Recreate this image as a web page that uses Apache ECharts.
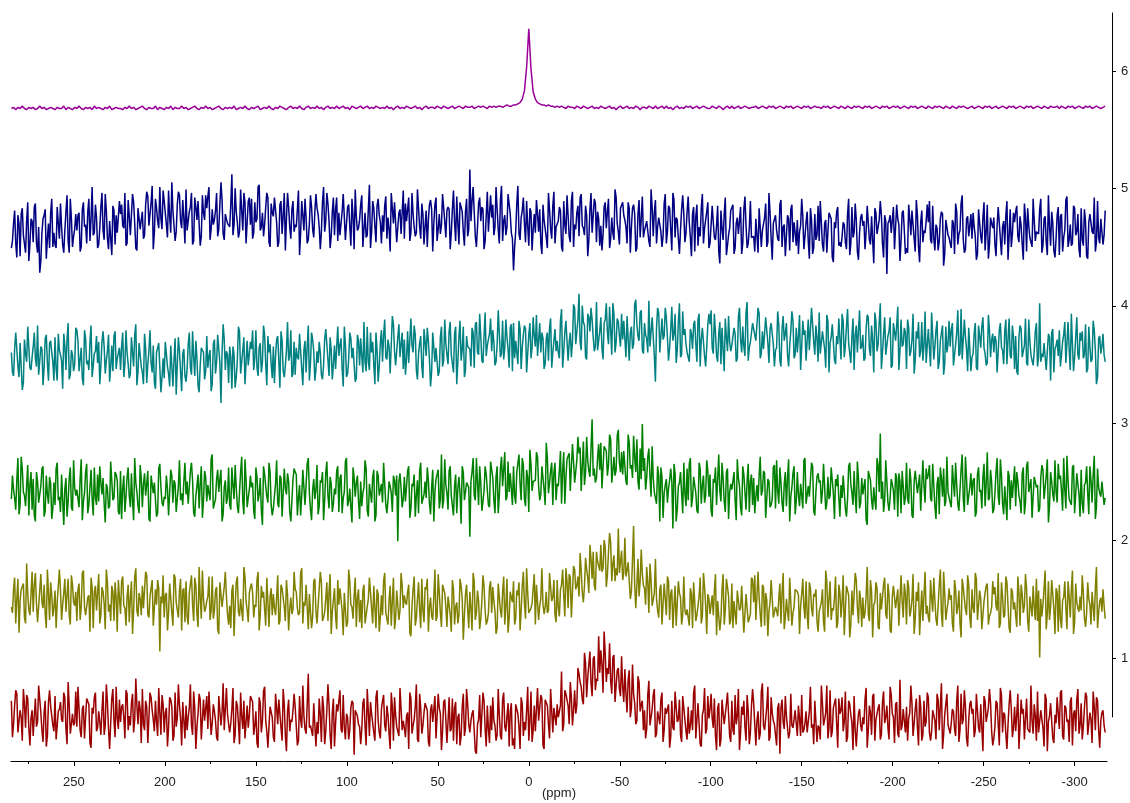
<!DOCTYPE html>
<html><head><meta charset="utf-8">
<script src="https://cdn.jsdelivr.net/npm/echarts@6/dist/echarts.min.js"></script>
<style>html,body{margin:0;padding:0;background:#fff}#c{width:1130px;height:803px}</style>
</head><body><div id="c"></div>
<script>
// spectral sampling grid (ppm): first point and spacing
const ppmStart = 284.4;
const ppmStepCoarse = 1.2;   // magenta trace
const ppmStepFine = 0.6;     // noisy traces
const xTickLabels = [250,200,150,100,50,0,-50,-100,-150,-200,-250,-300];
const xMinorTicks = [275,225,175,125,75,25,-25,-75,-125,-175,-225,-275];
const yTickLabels = [1,2,3,4,5,6];
const axisName = '(ppm)';

const traceMagenta = [
5.68,5.69,5.67,5.69,5.68,5.70,5.68,5.67,5.69,5.68,
5.69,5.67,5.68,5.70,5.68,5.69,5.67,5.68,5.69,5.68,
5.67,5.69,5.68,5.68,5.70,5.67,5.69,5.68,5.67,5.69,
5.68,5.70,5.68,5.67,5.69,5.68,5.69,5.67,5.70,5.68,
5.69,5.68,5.67,5.69,5.68,5.70,5.67,5.68,5.69,5.68,
5.68,5.67,5.69,5.68,5.70,5.68,5.69,5.67,5.68,5.69,
5.70,5.68,5.67,5.69,5.68,5.68,5.70,5.67,5.69,5.68,
5.67,5.69,5.68,5.70,5.67,5.69,5.68,5.68,5.70,5.68,
5.69,5.67,5.68,5.69,5.70,5.68,5.67,5.69,5.68,5.70,
5.68,5.69,5.67,5.68,5.69,5.70,5.68,5.67,5.69,5.68,
5.69,5.68,5.70,5.67,5.68,5.69,5.68,5.70,5.68,5.67,
5.69,5.68,5.69,5.70,5.67,5.68,5.69,5.68,5.70,5.68,
5.67,5.69,5.68,5.70,5.69,5.68,5.67,5.69,5.70,5.68,
5.69,5.68,5.70,5.68,5.67,5.69,5.70,5.68,5.69,5.68,
5.70,5.68,5.69,5.67,5.69,5.70,5.68,5.69,5.68,5.70,
5.68,5.69,5.70,5.68,5.69,5.67,5.70,5.69,5.68,5.69,
5.70,5.68,5.69,5.70,5.68,5.69,5.68,5.70,5.69,5.68,
5.69,5.68,5.70,5.68,5.69,5.67,5.69,5.70,5.68,5.69,
5.68,5.70,5.69,5.68,5.69,5.70,5.68,5.69,5.67,5.69,
5.70,5.68,5.69,5.69,5.68,5.70,5.69,5.68,5.70,5.69,
5.68,5.69,5.70,5.68,5.69,5.70,5.69,5.68,5.70,5.69,
5.69,5.70,5.68,5.69,5.70,5.69,5.70,5.69,5.68,5.70,
5.69,5.70,5.69,5.70,5.70,5.69,5.70,5.71,5.70,5.70,
5.71,5.71,5.72,5.73,5.76,5.83,6.03,6.36,6.02,5.82,
5.76,5.73,5.72,5.71,5.71,5.70,5.71,5.70,5.70,5.69,
5.70,5.69,5.70,5.69,5.68,5.70,5.69,5.69,5.68,5.70,
5.69,5.68,5.70,5.69,5.68,5.69,5.70,5.68,5.69,5.68,
5.70,5.69,5.68,5.69,5.70,5.68,5.69,5.67,5.69,5.70,
5.68,5.69,5.70,5.68,5.69,5.68,5.70,5.69,5.67,5.69,
5.69,5.68,5.70,5.69,5.68,5.70,5.68,5.69,5.70,5.68,
5.70,5.68,5.69,5.67,5.69,5.70,5.68,5.69,5.68,5.70,
5.69,5.70,5.68,5.69,5.70,5.68,5.69,5.70,5.69,5.68,
5.68,5.70,5.69,5.68,5.70,5.69,5.67,5.69,5.70,5.68,
5.70,5.68,5.69,5.70,5.68,5.69,5.70,5.69,5.68,5.69,
5.69,5.70,5.68,5.69,5.70,5.69,5.68,5.70,5.69,5.70,
5.68,5.69,5.70,5.69,5.68,5.70,5.69,5.70,5.68,5.69,
5.70,5.69,5.68,5.70,5.69,5.70,5.68,5.69,5.70,5.69,
5.69,5.68,5.70,5.69,5.70,5.68,5.69,5.70,5.69,5.68,
5.70,5.69,5.68,5.70,5.69,5.68,5.70,5.69,5.70,5.69,
5.68,5.70,5.69,5.70,5.68,5.69,5.70,5.69,5.68,5.70,
5.69,5.70,5.68,5.69,5.70,5.69,5.70,5.68,5.69,5.70,
5.69,5.68,5.70,5.69,5.70,5.68,5.69,5.70,5.69,5.68,
5.70,5.69,5.68,5.70,5.69,5.70,5.69,5.68,5.70,5.69,
5.68,5.70,5.69,5.68,5.70,5.69,5.70,5.69,5.68,5.69,
5.70,5.68,5.69,5.70,5.69,5.68,5.70,5.69,5.70,5.68,
5.69,5.70,5.68,5.69,5.70,5.69,5.68,5.70,5.69,5.70,
5.68,5.69,5.70,5.69,5.68,5.70,5.69,5.70,5.68,5.69,
5.70,5.69,5.68,5.70,5.69,5.68,5.70,5.69,5.69,5.70,
5.68,5.70,5.69,5.68,5.70,5.69,5.70,5.68,5.69,5.70,
5.69,5.68,5.70,5.69,5.70,5.68,5.69,5.70,5.69,5.68,
5.69,5.70];

const traceNavy = [
4.49,4.55,4.70,4.81,4.53,4.41,4.77,4.70,4.42,4.78,4.83,4.60,4.61,4.45,4.72,4.88,4.38,4.52,4.74,4.72,
4.54,4.84,4.87,4.53,4.45,4.67,4.28,4.38,4.62,4.74,4.77,4.82,4.40,4.57,4.70,4.49,4.79,4.91,4.50,4.62,
4.52,4.49,4.84,4.70,4.57,4.87,4.67,4.52,4.45,4.64,4.80,4.94,4.55,4.45,4.91,4.74,4.50,4.59,4.65,4.78,
4.64,4.77,4.79,4.46,4.50,4.82,4.88,4.67,4.69,4.53,4.80,4.91,4.55,4.74,5.01,4.60,4.62,4.86,4.75,4.49,
4.52,4.66,4.84,4.96,4.64,4.56,4.95,4.81,4.57,4.48,4.72,4.72,4.43,4.85,4.81,4.52,4.77,4.62,4.61,4.89,
4.78,4.86,4.68,4.66,4.96,4.51,4.53,4.90,4.76,4.60,4.60,4.95,4.88,4.70,4.49,4.47,4.83,4.82,4.65,4.73,
4.80,4.57,4.60,4.86,4.97,4.93,4.68,4.69,4.88,5.02,4.48,4.62,4.91,4.83,4.72,4.66,5.01,4.74,4.65,4.98,
4.89,4.88,4.69,4.58,4.98,4.76,4.62,5.05,4.81,4.68,4.55,4.63,4.86,4.97,4.94,4.72,4.66,4.90,4.74,4.53,
4.99,4.64,4.64,4.80,4.84,4.96,4.52,4.55,4.92,4.84,4.73,4.89,4.89,4.51,4.59,4.94,4.79,4.73,4.94,4.83,
4.93,5.01,4.56,4.65,4.82,4.69,4.73,4.81,4.96,4.59,4.65,4.86,5.05,4.90,4.61,4.56,4.78,4.79,4.70,4.70,
4.67,4.86,5.12,4.60,4.69,5.00,4.80,4.71,4.58,4.63,4.99,4.81,4.64,4.96,4.88,4.53,4.71,4.89,4.92,4.69,
4.91,4.57,4.62,4.88,4.71,4.74,5.01,5.03,4.64,4.67,4.79,4.59,4.69,4.84,4.96,4.92,4.54,4.50,4.87,4.79,
4.76,4.92,4.91,4.71,4.50,4.54,4.86,4.89,4.61,4.77,4.96,4.47,4.74,4.96,4.84,4.67,4.57,4.82,4.89,4.63,
4.69,4.67,4.82,4.98,4.43,4.62,4.89,4.77,4.64,4.91,4.75,4.53,4.56,4.70,4.94,4.84,4.65,4.58,4.80,4.95,
4.83,4.78,4.67,4.48,4.63,4.88,5.01,4.63,4.72,4.96,4.87,4.72,4.49,4.59,4.80,4.92,4.60,4.82,4.92,4.55,
4.79,4.60,4.61,4.80,4.95,4.95,4.56,4.56,4.84,4.86,4.68,4.51,4.91,4.76,4.48,4.99,4.76,4.64,4.66,4.73,
4.86,4.94,4.50,4.65,4.79,4.58,4.60,4.82,5.03,4.49,4.63,4.89,4.83,4.68,4.54,4.85,4.91,4.77,4.71,4.53,
4.77,4.63,4.85,4.93,4.57,4.75,4.65,4.46,4.96,4.83,4.70,4.88,4.89,4.54,4.53,4.79,4.82,4.61,4.62,4.98,
4.57,4.87,4.72,4.71,4.92,4.55,4.62,4.96,4.78,4.67,4.59,4.62,4.99,5.00,4.67,4.57,4.87,4.78,4.52,4.68,
4.81,4.50,4.73,4.86,4.90,4.82,4.46,4.70,4.86,4.92,4.55,4.65,4.78,4.61,4.69,4.95,4.95,4.72,4.58,4.81,
4.84,4.82,4.48,4.62,4.82,4.98,4.71,4.55,4.93,4.70,4.52,4.88,4.87,4.80,4.63,4.51,4.80,4.91,4.59,4.65,
5.16,4.72,4.89,5.01,4.80,4.59,4.50,4.67,4.87,4.92,4.72,4.84,4.82,4.48,4.55,4.77,4.97,4.63,4.64,4.94,
4.75,4.86,4.60,4.67,5.01,4.82,4.65,4.53,4.90,5.02,4.55,4.72,4.77,4.60,4.67,4.95,4.94,4.78,4.62,4.57,
4.30,4.50,4.63,4.87,5.02,4.61,4.56,4.75,4.81,4.92,4.70,4.54,4.89,4.68,4.51,4.83,4.80,4.47,4.65,4.78,
4.62,4.90,4.78,4.63,4.82,4.53,4.44,4.86,4.73,4.73,4.58,4.49,4.96,4.82,4.65,4.57,4.85,4.97,4.53,4.67,
4.66,4.72,4.84,4.81,4.50,4.46,4.89,4.69,4.61,4.94,4.77,4.59,4.54,4.89,4.97,4.50,4.69,4.65,4.79,4.85,
4.59,4.92,4.95,4.68,4.66,4.60,4.85,4.77,4.42,4.56,4.82,4.96,4.62,4.63,4.91,4.87,4.54,4.80,4.74,4.51,
4.68,4.47,4.60,4.84,4.88,4.66,4.80,4.91,4.49,4.57,4.75,4.62,4.56,4.99,4.92,4.70,4.63,4.52,4.83,4.82,
4.88,4.77,4.73,4.67,4.53,4.88,4.83,4.45,4.67,4.83,4.86,4.78,4.46,4.49,4.78,4.90,4.58,4.74,4.93,4.58,
4.64,4.64,4.72,4.73,4.55,4.50,4.99,4.84,4.59,4.80,4.90,4.53,4.67,4.75,4.76,4.63,4.50,4.59,4.87,4.95,
4.53,4.63,4.85,4.83,4.65,4.47,4.96,4.90,4.58,4.75,4.73,4.57,4.44,4.65,4.82,4.94,4.78,4.54,4.62,4.80,
4.93,4.71,4.58,4.42,4.78,4.84,4.46,4.76,4.86,4.51,4.67,4.59,4.83,4.95,4.53,4.66,4.73,4.80,4.88,4.49,
4.53,4.52,4.85,4.71,4.58,4.56,4.68,4.85,4.46,4.36,4.81,4.66,4.56,4.78,4.92,4.43,4.51,4.60,4.66,4.81,
4.81,4.86,4.44,4.49,4.70,4.75,4.61,4.61,4.84,4.44,4.53,4.82,4.93,4.68,4.49,4.53,4.66,4.89,4.58,4.58,
4.59,4.46,4.74,4.73,4.45,4.83,4.83,4.50,4.64,4.63,4.75,4.87,4.50,4.54,4.96,4.79,4.57,4.39,4.70,4.69,
4.77,4.64,4.57,4.55,4.86,4.90,4.50,4.67,4.69,4.42,4.43,4.77,4.74,4.47,4.82,4.86,4.54,4.71,4.62,4.51,
4.73,4.44,4.63,4.68,4.91,4.76,4.48,4.59,4.71,4.80,4.55,4.40,4.83,4.73,4.44,4.49,4.78,4.56,4.60,4.85,
4.55,4.89,4.88,4.52,4.46,4.70,4.73,4.45,4.63,4.79,4.78,4.74,4.41,4.37,4.71,4.66,4.80,4.84,4.51,4.54,
4.50,4.59,4.71,4.69,4.54,4.48,4.78,4.91,4.43,4.53,4.84,4.58,4.62,4.87,4.73,4.46,4.39,4.62,4.75,4.78,
4.68,4.72,4.48,4.63,4.85,4.86,4.56,4.52,4.76,4.56,4.36,4.83,4.79,4.61,4.60,4.73,4.89,4.77,4.53,4.41,
4.77,4.72,4.27,4.70,4.72,4.77,4.62,4.62,4.84,4.48,4.49,4.86,4.74,4.69,4.38,4.55,4.79,4.81,4.64,4.44,
4.49,4.45,4.86,4.74,4.60,4.81,4.69,4.57,4.46,4.90,4.77,4.50,4.37,4.71,4.81,4.54,4.64,4.62,4.72,4.86,
4.71,4.89,4.56,4.53,4.85,4.57,4.47,4.69,4.66,4.47,4.55,4.74,4.80,4.78,4.34,4.44,4.73,4.67,4.60,4.58,
4.53,4.49,4.73,4.70,4.44,4.87,4.80,4.52,4.61,4.64,4.87,4.94,4.56,4.45,4.48,4.74,4.76,4.59,4.68,4.78,
4.57,4.79,4.67,4.59,4.39,4.44,4.82,4.83,4.59,4.53,4.75,4.88,4.47,4.63,4.86,4.40,4.52,4.75,4.70,4.66,
4.75,4.52,4.42,4.68,4.84,4.84,4.57,4.43,4.67,4.72,4.52,4.77,4.89,4.39,4.59,4.82,4.50,4.61,4.79,4.71,
4.80,4.85,4.59,4.54,4.76,4.68,4.52,4.39,4.87,4.75,4.46,4.83,4.68,4.58,4.57,4.50,4.91,4.92,4.55,4.63,
4.62,4.61,4.82,4.91,4.45,4.51,4.74,4.76,4.54,4.43,4.94,4.67,4.51,4.80,4.70,4.47,4.41,4.57,4.77,4.84,
4.43,4.76,4.78,4.46,4.58,4.64,4.90,4.93,4.50,4.56,4.69,4.51,4.53,4.85,4.83,4.60,4.63,4.78,4.48,4.41,
4.83,4.56,4.51,4.82,4.71,4.42,4.40,4.71,4.78,4.79,4.63,4.61,4.92,4.46,4.54,4.89,4.58,4.53,4.74,4.73,
4.52,4.60,4.81];

const traceTeal = [
3.60,3.43,3.40,3.63,3.77,3.78,3.48,3.39,3.68,3.69,3.28,3.34,3.71,3.59,3.52,3.82,3.81,3.47,3.45,3.56,
3.65,3.77,3.55,3.48,3.83,3.41,3.40,3.65,3.63,3.32,3.47,3.72,3.75,3.51,3.36,3.68,3.70,3.60,3.52,3.36,
3.73,3.46,3.36,3.76,3.62,3.58,3.53,3.29,3.76,3.66,3.45,3.71,3.85,3.37,3.41,3.62,3.58,3.44,3.50,3.81,
3.79,3.70,3.44,3.54,3.64,3.38,3.32,3.79,3.72,3.50,3.53,3.45,3.69,3.83,3.39,3.40,3.59,3.61,3.74,3.51,
3.69,3.33,3.49,3.69,3.78,3.65,3.42,3.53,3.61,3.75,3.35,3.48,3.66,3.44,3.74,3.78,3.46,3.55,3.54,3.64,
3.45,3.65,3.77,3.39,3.50,3.79,3.60,3.50,3.38,3.42,3.73,3.60,3.48,3.75,3.84,3.32,3.43,3.68,3.58,3.48,
3.43,3.33,3.76,3.64,3.34,3.50,3.61,3.79,3.51,3.43,3.66,3.35,3.29,3.60,3.59,3.68,3.68,3.26,3.39,3.55,
3.38,3.69,3.59,3.48,3.42,3.31,3.66,3.66,3.31,3.54,3.72,3.24,3.50,3.73,3.61,3.44,3.27,3.59,3.63,3.40,
3.35,3.46,3.67,3.77,3.47,3.41,3.78,3.56,3.40,3.70,3.55,3.32,3.26,3.49,3.64,3.63,3.60,3.37,3.44,3.74,
3.47,3.57,3.62,3.27,3.33,3.67,3.71,3.42,3.52,3.75,3.63,3.51,3.17,3.60,3.84,3.71,3.45,3.61,3.58,3.34,
3.65,3.56,3.29,3.65,3.58,3.30,3.39,3.53,3.82,3.78,3.42,3.43,3.62,3.73,3.33,3.34,3.70,3.49,3.50,3.69,
3.63,3.79,3.45,3.55,3.79,3.47,3.40,3.64,3.68,3.43,3.52,3.83,3.75,3.50,3.32,3.74,3.60,3.67,3.50,3.38,
3.65,3.34,3.57,3.71,3.74,3.53,3.30,3.78,3.70,3.44,3.39,3.49,3.62,3.86,3.53,3.57,3.79,3.39,3.42,3.69,
3.41,3.64,3.56,3.54,3.76,3.75,3.46,3.32,3.62,3.70,3.43,3.65,3.83,3.36,3.51,3.77,3.71,3.61,3.36,3.45,
3.61,3.51,3.69,3.60,3.41,3.37,3.49,3.71,3.80,3.67,3.54,3.40,3.73,3.62,3.37,3.50,3.66,3.46,3.46,3.82,
3.57,3.66,3.72,3.46,3.31,3.82,3.67,3.39,3.42,3.54,3.77,3.72,3.55,3.64,3.65,3.35,3.38,3.75,3.70,3.49,
3.72,3.57,3.43,3.86,3.52,3.44,3.82,3.52,3.45,3.77,3.60,3.69,3.50,3.33,3.77,3.62,3.35,3.48,3.68,3.79,
3.52,3.75,3.88,3.56,3.54,3.71,3.65,3.42,3.43,3.91,3.84,3.61,3.49,3.49,3.73,3.84,3.56,3.67,3.77,3.46,
3.71,3.41,3.55,3.78,3.51,3.52,3.89,3.66,3.60,3.83,3.75,3.45,3.37,3.59,3.68,3.74,3.48,3.38,3.80,3.69,
3.57,3.81,3.70,3.54,3.31,3.44,3.77,3.77,3.52,3.64,3.63,3.40,3.44,3.73,3.82,3.48,3.53,3.88,3.68,3.58,
3.50,3.78,3.86,3.58,3.57,3.43,3.76,3.82,3.33,3.52,3.73,3.87,3.53,3.62,3.82,3.39,3.45,3.74,3.65,3.65,
3.63,3.48,3.81,3.77,3.47,3.84,3.86,3.60,3.58,3.93,3.74,3.53,3.51,3.74,3.94,3.57,3.66,3.65,3.76,3.89,
3.61,3.79,3.69,3.49,3.52,3.67,3.96,3.96,3.56,3.59,3.87,3.54,3.64,3.88,3.73,3.63,3.47,3.81,3.84,3.44,
3.85,3.55,3.70,3.71,3.50,3.87,3.80,3.46,3.64,3.75,3.83,3.80,3.43,3.42,3.75,3.85,3.55,3.64,3.90,3.74,
3.65,3.92,3.57,3.56,3.85,3.60,3.77,3.72,3.46,3.50,3.72,3.77,3.53,3.81,3.89,3.47,3.60,3.70,3.80,3.61,
3.70,3.60,3.55,3.87,3.97,3.47,3.61,3.77,3.87,3.86,3.53,3.69,3.77,3.56,3.69,4.01,3.98,3.67,3.67,3.88,
4.10,3.69,3.62,4.00,3.86,3.83,3.56,3.54,3.93,3.90,3.78,3.98,3.88,3.73,3.61,3.65,4.03,3.62,3.70,3.78,
3.90,3.64,3.54,3.85,3.88,4.02,3.77,3.67,3.99,3.79,3.58,4.02,3.93,3.60,3.69,3.89,3.86,3.74,3.65,3.93,
3.71,3.87,3.87,3.56,3.91,3.92,3.53,3.77,3.82,3.63,3.67,4.01,4.05,3.84,3.74,3.70,3.94,3.96,3.62,3.59,
3.85,3.75,3.72,3.60,4.04,3.65,3.65,3.90,3.90,3.57,3.35,3.81,3.98,3.94,3.60,3.61,3.89,3.71,3.74,3.98,
3.90,3.73,3.53,3.64,3.79,3.99,3.70,3.76,3.93,3.51,3.62,3.86,4.02,3.56,3.58,3.95,3.75,3.80,3.67,3.60,
3.59,3.52,3.80,3.76,3.63,3.84,3.87,3.67,3.52,3.88,3.93,3.48,3.71,3.81,3.82,3.57,3.48,3.64,3.84,3.93,
3.84,3.96,3.64,3.59,3.93,3.77,3.57,3.52,3.76,3.86,3.50,3.81,3.81,3.44,3.89,3.73,3.61,3.91,3.69,3.61,
3.66,3.66,3.81,3.76,3.52,3.55,3.90,3.98,3.71,3.60,3.82,3.65,3.57,3.94,4.03,3.53,3.64,3.69,3.77,3.85,
3.80,3.79,3.70,3.70,3.98,3.93,3.55,3.59,3.78,3.63,3.62,3.90,3.90,3.68,3.51,3.80,3.85,3.84,3.67,3.48,
3.62,3.64,3.95,3.84,3.53,3.48,3.80,3.91,3.70,3.76,3.85,3.58,3.48,3.66,3.78,3.95,3.87,3.55,3.58,3.81,
3.60,3.74,3.92,3.45,3.65,3.87,3.75,3.79,3.53,3.54,3.88,3.62,3.63,3.98,3.99,3.69,3.58,3.83,3.73,3.52,
3.94,3.59,3.59,3.78,3.79,3.63,3.47,3.92,3.87,3.43,3.68,3.73,3.84,3.85,3.54,3.50,3.74,3.67,3.89,3.88,
3.54,3.93,3.86,3.56,3.66,3.82,3.97,3.68,3.59,3.51,3.74,3.89,3.45,3.75,3.83,3.60,3.79,3.96,3.63,3.65,
3.75,3.53,3.55,3.80,3.92,3.90,3.63,3.57,3.83,3.70,3.43,3.94,3.86,3.61,3.67,3.86,4.02,3.46,3.60,3.76,
3.90,3.58,3.58,3.74,3.78,3.90,3.47,3.49,3.85,3.78,3.70,3.83,3.99,3.45,3.61,3.88,3.65,3.67,3.81,3.77,
3.46,3.88,3.81,3.57,3.61,3.71,3.93,3.42,3.53,3.78,3.72,3.86,3.56,3.61,3.86,3.53,3.66,3.95,3.51,3.66,
3.80,3.64,3.48,3.94,3.75,3.54,3.65,3.79,3.87,3.46,3.52,3.70,3.77,3.83,3.41,3.50,3.82,3.60,3.67,3.87,
3.65,3.79,3.85,3.49,3.48,3.67,3.77,3.96,3.57,3.59,3.97,3.54,3.54,3.88,3.73,3.63,3.44,3.81,3.80,3.44,
3.56,3.59,3.76,3.85,3.47,3.45,3.83,3.74,3.64,3.82,3.90,3.64,3.59,3.49,3.51,3.92,3.79,3.56,3.71,3.76,
3.60,3.74,3.70,3.43,3.42,3.79,3.85,3.64,3.62,3.50,3.78,3.88,3.50,3.71,3.89,3.57,3.55,3.83,3.73,3.46,
3.74,3.44,3.41,3.73,3.83,3.80,3.56,3.56,3.66,3.89,3.51,3.49,3.88,3.70,3.58,3.53,3.49,3.61,3.78,3.85,
3.48,3.56,4.02,3.52,3.59,3.56,3.68,3.68,3.45,3.46,3.76,3.73,3.36,3.77,3.80,3.43,3.63,3.66,3.71,3.57,
3.79,3.48,3.58,3.69,3.75,3.86,3.51,3.51,3.86,3.63,3.45,3.93,3.67,3.44,3.56,3.73,3.90,3.58,3.54,3.77,
3.70,3.78,3.55,3.58,3.84,3.43,3.46,3.82,3.65,3.52,3.54,3.87,3.79,3.62,3.33,3.39,3.72,3.74,3.59,3.65,
3.76,3.58,3.52];

const traceGreen = [
2.35,2.55,2.43,2.36,2.26,2.51,2.70,2.22,2.30,2.71,2.61,2.41,2.38,2.29,2.47,2.64,2.21,2.47,2.58,2.26,
2.52,2.21,2.16,2.58,2.50,2.32,2.39,2.46,2.61,2.63,2.20,2.25,2.55,2.39,2.31,2.54,2.48,2.18,2.27,2.49,
2.30,2.61,2.66,2.34,2.37,2.24,2.56,2.57,2.13,2.44,2.53,2.20,2.33,2.53,2.62,2.28,2.25,2.68,2.45,2.38,
2.43,2.43,2.28,2.52,2.69,2.17,2.33,2.40,2.58,2.65,2.23,2.30,2.45,2.60,2.35,2.21,2.62,2.36,2.30,2.56,
2.33,2.63,2.49,2.39,2.53,2.31,2.15,2.48,2.44,2.27,2.29,2.67,2.67,2.34,2.36,2.58,2.56,2.51,2.24,2.22,
2.59,2.18,2.44,2.55,2.24,2.37,2.54,2.62,2.38,2.28,2.57,2.33,2.17,2.70,2.49,2.41,2.29,2.23,2.64,2.53,
2.28,2.48,2.57,2.38,2.48,2.59,2.18,2.16,2.55,2.54,2.40,2.49,2.50,2.20,2.23,2.61,2.65,2.45,2.32,2.29,
2.37,2.35,2.55,2.44,2.21,2.21,2.60,2.55,2.32,2.51,2.48,2.24,2.25,2.46,2.68,2.34,2.40,2.30,2.50,2.66,
2.39,2.50,2.31,2.30,2.59,2.66,2.51,2.23,2.20,2.38,2.46,2.56,2.27,2.48,2.63,2.19,2.34,2.59,2.54,2.33,
2.47,2.40,2.34,2.69,2.73,2.27,2.27,2.35,2.52,2.60,2.41,2.52,2.60,2.16,2.22,2.45,2.51,2.31,2.36,2.62,
2.30,2.26,2.62,2.47,2.35,2.64,2.45,2.29,2.23,2.41,2.58,2.71,2.33,2.22,2.69,2.51,2.28,2.36,2.43,2.55,
2.45,2.49,2.25,2.18,2.62,2.54,2.33,2.39,2.53,2.25,2.13,2.63,2.56,2.46,2.37,2.32,2.66,2.58,2.30,2.21,
2.27,2.38,2.48,2.68,2.31,2.28,2.55,2.53,2.20,2.20,2.61,2.44,2.39,2.57,2.50,2.24,2.16,2.34,2.52,2.61,
2.58,2.56,2.21,2.36,2.47,2.21,2.38,2.60,2.61,2.30,2.30,2.65,2.70,2.40,2.26,2.17,2.43,2.52,2.35,2.43,
2.64,2.22,2.29,2.51,2.49,2.58,2.17,2.34,2.57,2.67,2.38,2.27,2.54,2.48,2.24,2.31,2.44,2.39,2.59,2.63,
2.24,2.53,2.56,2.23,2.36,2.41,2.67,2.70,2.29,2.33,2.44,2.28,2.15,2.62,2.53,2.37,2.49,2.55,2.33,2.18,
2.50,2.29,2.40,2.45,2.68,2.61,2.25,2.20,2.48,2.49,2.32,2.54,2.60,2.16,2.21,2.59,2.55,2.38,2.37,2.48,
2.32,2.66,2.65,2.30,2.23,2.34,2.50,2.46,2.40,2.24,2.55,2.51,2.38,2.55,1.99,2.50,2.57,2.44,2.28,2.35,
2.54,2.33,2.34,2.59,2.63,2.19,2.27,2.48,2.46,2.56,2.20,2.38,2.51,2.23,2.59,2.66,2.31,2.30,2.39,2.50,
2.36,2.62,2.51,2.31,2.22,2.45,2.60,2.16,2.41,2.52,2.52,2.60,2.27,2.35,2.73,2.27,2.34,2.69,2.47,2.40,
2.26,2.59,2.63,2.38,2.37,2.21,2.46,2.56,2.23,2.44,2.54,2.40,2.14,2.63,2.58,2.34,2.41,2.49,2.49,2.45,
2.03,2.50,2.58,2.70,2.38,2.34,2.70,2.49,2.30,2.63,2.49,2.25,2.33,2.42,2.63,2.56,2.43,2.30,2.28,2.67,
2.66,2.53,2.34,2.23,2.54,2.63,2.23,2.38,2.61,2.71,2.46,2.47,2.75,2.34,2.37,2.67,2.41,2.57,2.57,2.30,
2.63,2.38,2.31,2.58,2.58,2.73,2.48,2.34,2.70,2.64,2.35,2.29,2.60,2.54,2.24,2.77,2.65,2.42,2.50,2.51,
2.51,2.75,2.71,2.46,2.34,2.39,2.63,2.63,2.43,2.30,2.83,2.70,2.40,2.49,2.59,2.66,2.30,2.58,2.66,2.34,
2.48,2.46,2.59,2.76,2.31,2.59,2.75,2.31,2.53,2.69,2.70,2.74,2.42,2.41,2.82,2.67,2.49,2.50,2.68,2.88,
2.74,2.79,2.42,2.63,2.84,2.47,2.58,2.88,2.68,2.59,2.54,2.54,3.03,2.55,2.61,2.49,2.53,2.70,2.82,2.60,
2.83,2.44,2.62,2.80,2.79,2.76,2.55,2.64,2.90,2.86,2.49,2.59,2.71,2.55,2.60,2.89,2.94,2.66,2.58,2.75,
2.56,2.76,2.76,2.50,2.47,2.90,2.83,2.61,2.64,2.53,2.89,2.71,2.58,2.86,2.50,2.43,2.78,2.52,2.99,2.59,
2.70,2.43,2.53,2.71,2.78,2.54,2.37,2.80,2.53,2.41,2.40,2.31,2.63,2.55,2.16,2.62,2.54,2.19,2.40,2.47,
2.52,2.32,2.44,2.51,2.61,2.50,2.10,2.65,2.57,2.16,2.26,2.46,2.49,2.58,2.40,2.23,2.66,2.40,2.29,2.61,
2.34,2.65,2.70,2.28,2.36,2.54,2.47,2.40,2.25,2.23,2.66,2.61,2.31,2.47,2.55,2.32,2.38,2.68,2.59,2.37,
2.56,2.25,2.20,2.52,2.49,2.62,2.30,2.29,2.73,2.42,2.33,2.66,2.53,2.33,2.24,2.58,2.61,2.18,2.41,2.48,
2.43,2.43,2.58,2.34,2.17,2.69,2.53,2.46,2.28,2.21,2.63,2.56,2.41,2.26,2.51,2.65,2.24,2.50,2.56,2.30,
2.53,2.23,2.37,2.47,2.33,2.55,2.71,2.38,2.42,2.59,2.57,2.19,2.19,2.52,2.50,2.28,2.30,2.35,2.62,2.64,
2.27,2.68,2.42,2.31,2.62,2.49,2.32,2.24,2.48,2.58,2.29,2.53,2.69,2.16,2.37,2.45,2.57,2.63,2.22,2.33,
2.58,2.38,2.29,2.48,2.38,2.27,2.68,2.70,2.31,2.32,2.46,2.37,2.36,2.66,2.63,2.25,2.21,2.41,2.54,2.57,
2.49,2.51,2.31,2.42,2.65,2.65,2.26,2.31,2.54,2.35,2.38,2.62,2.61,2.40,2.18,2.52,2.46,2.56,2.36,2.20,
2.47,2.36,2.55,2.56,2.27,2.20,2.35,2.63,2.66,2.48,2.40,2.30,2.59,2.38,2.23,2.67,2.52,2.27,2.32,2.53,
2.39,2.46,2.52,2.17,2.13,2.59,2.59,2.51,2.34,2.26,2.45,2.34,2.26,2.70,2.64,2.41,2.91,2.35,2.50,2.24,
2.34,2.68,2.67,2.32,2.25,2.36,2.52,2.48,2.42,2.26,2.57,2.53,2.20,2.57,2.50,2.23,2.59,2.46,2.30,2.37,
2.66,2.35,2.31,2.61,2.51,2.21,2.19,2.50,2.59,2.58,2.40,2.40,2.56,2.25,2.26,2.68,2.46,2.32,2.61,2.52,
2.56,2.64,2.36,2.33,2.65,2.47,2.29,2.18,2.48,2.54,2.22,2.62,2.53,2.37,2.61,2.29,2.33,2.71,2.41,2.42,
2.32,2.28,2.64,2.49,2.37,2.66,2.47,2.31,2.25,2.43,2.60,2.73,2.35,2.24,2.71,2.53,2.30,2.38,2.45,2.57,
2.38,2.51,2.53,2.20,2.24,2.56,2.62,2.41,2.43,2.27,2.54,2.65,2.29,2.48,2.75,2.34,2.36,2.60,2.49,2.23,
2.26,2.40,2.58,2.70,2.38,2.30,2.69,2.55,2.31,2.22,2.46,2.46,2.17,2.59,2.55,2.26,2.51,2.36,2.35,2.63,
2.29,2.58,2.50,2.38,2.33,2.23,2.57,2.62,2.22,2.32,2.63,2.67,2.41,2.42,2.52,2.19,2.18,2.54,2.54,2.45,
2.47,2.24,2.27,2.53,2.64,2.60,2.35,2.36,2.55,2.69,2.15,2.29,2.58,2.50,2.39,2.33,2.68,2.41,2.32,2.65,
2.52,2.55,2.42,2.25,2.70,2.43,2.27,2.72,2.50,2.35,2.34,2.30,2.62,2.64,2.23,2.39,2.57,2.57,2.39,2.20,
2.60,2.31,2.23,2.47,2.49,2.63,2.40,2.22,2.63,2.51,2.32,2.56,2.72,2.18,2.28,2.61,2.45,2.40,2.37,2.50,
2.51,2.30,2.36];

const traceOlive = [
1.43,1.38,1.58,1.68,1.29,1.50,1.67,1.21,1.48,1.58,1.59,1.63,1.34,1.29,1.80,1.54,1.41,1.36,1.54,1.73,
1.39,1.62,1.72,1.46,1.30,1.30,1.57,1.71,1.47,1.42,1.62,1.37,1.25,1.75,1.55,1.32,1.64,1.53,1.35,1.43,
1.57,1.25,1.47,1.61,1.75,1.57,1.32,1.45,1.55,1.67,1.39,1.40,1.67,1.36,1.28,1.70,1.62,1.47,1.44,1.56,
1.31,1.58,1.63,1.32,1.43,1.72,1.74,1.43,1.36,1.35,1.51,1.53,1.22,1.68,1.60,1.25,1.56,1.61,1.40,1.41,
1.71,1.29,1.36,1.60,1.56,1.46,1.24,1.75,1.64,1.39,1.45,1.31,1.61,1.56,1.31,1.64,1.51,1.22,1.66,1.51,
1.37,1.65,1.69,1.44,1.42,1.27,1.52,1.62,1.30,1.50,1.65,1.20,1.40,1.69,1.76,1.40,1.35,1.55,1.50,1.36,
1.61,1.42,1.41,1.73,1.70,1.37,1.34,1.52,1.53,1.66,1.27,1.28,1.58,1.45,1.66,1.59,1.05,1.52,1.46,1.70,
1.34,1.53,1.55,1.23,1.38,1.63,1.62,1.38,1.27,1.71,1.68,1.47,1.46,1.34,1.57,1.67,1.23,1.57,1.59,1.30,
1.65,1.35,1.28,1.55,1.54,1.70,1.45,1.31,1.68,1.61,1.37,1.26,1.77,1.51,1.33,1.74,1.50,1.39,1.42,1.48,
1.52,1.69,1.32,1.40,1.69,1.33,1.40,1.57,1.60,1.24,1.20,1.64,1.63,1.43,1.44,1.60,1.73,1.52,1.37,1.28,
1.44,1.25,1.57,1.62,1.18,1.44,1.64,1.69,1.39,1.35,1.50,1.40,1.31,1.77,1.69,1.48,1.40,1.30,1.55,1.60,
1.63,1.55,1.34,1.45,1.43,1.66,1.73,1.23,1.36,1.61,1.51,1.56,1.41,1.27,1.68,1.68,1.26,1.52,1.59,1.36,
1.54,1.42,1.36,1.51,1.70,1.28,1.31,1.62,1.59,1.58,1.43,1.31,1.66,1.53,1.23,1.41,1.51,1.37,1.41,1.73,
1.58,1.56,1.42,1.36,1.38,1.72,1.76,1.29,1.47,1.44,1.62,1.62,1.24,1.54,1.55,1.25,1.35,1.65,1.67,1.39,
1.29,1.44,1.44,1.73,1.64,1.31,1.34,1.39,1.50,1.64,1.31,1.56,1.71,1.20,1.39,1.49,1.59,1.35,1.24,1.66,
1.45,1.59,1.60,1.40,1.19,1.55,1.55,1.26,1.30,1.75,1.65,1.45,1.43,1.33,1.53,1.68,1.26,1.51,1.58,1.30,
1.49,1.25,1.57,1.62,1.29,1.36,1.37,1.50,1.68,1.67,1.42,1.29,1.61,1.43,1.25,1.58,1.54,1.22,1.34,1.53,
1.36,1.65,1.72,1.38,1.38,1.28,1.49,1.61,1.27,1.48,1.68,1.24,1.33,1.57,1.57,1.32,1.40,1.72,1.61,1.42,
1.53,1.47,1.45,1.56,1.62,1.21,1.18,1.44,1.58,1.69,1.27,1.34,1.50,1.64,1.41,1.25,1.67,1.40,1.30,1.60,
1.58,1.67,1.22,1.43,1.51,1.35,1.32,1.52,1.75,1.31,1.35,1.71,1.55,1.38,1.26,1.62,1.63,1.55,1.43,1.26,
1.52,1.53,1.37,1.22,1.66,1.58,1.28,1.43,1.47,1.29,1.36,1.67,1.61,1.50,1.15,1.36,1.54,1.62,1.41,1.25,
1.56,1.42,1.23,1.72,1.65,1.32,1.38,1.57,1.48,1.24,1.33,1.48,1.70,1.61,1.40,1.28,1.31,1.38,1.60,1.65,
1.38,1.60,1.48,1.40,1.20,1.25,1.63,1.64,1.40,1.34,1.56,1.69,1.28,1.44,1.67,1.21,1.33,1.56,1.51,1.47,
1.65,1.28,1.33,1.57,1.53,1.64,1.23,1.40,1.61,1.73,1.46,1.33,1.76,1.55,1.38,1.38,1.42,1.46,1.59,1.71,
1.28,1.62,1.63,1.32,1.44,1.50,1.76,1.45,1.37,1.43,1.56,1.38,1.40,1.72,1.71,1.48,1.51,1.66,1.36,1.30,
1.66,1.42,1.35,1.58,1.62,1.75,1.53,1.35,1.76,1.65,1.42,1.71,1.68,1.34,1.33,1.78,1.75,1.58,1.61,1.69,
1.52,1.89,1.74,1.55,1.47,1.61,1.85,1.75,1.68,1.55,1.96,1.84,1.67,1.90,1.61,1.57,1.90,1.82,1.83,1.74,
1.96,1.73,1.76,2.00,1.94,1.60,1.70,1.90,2.06,1.98,1.65,1.80,1.87,1.65,1.76,1.70,2.10,1.72,1.73,1.91,
1.66,1.72,2.02,1.69,1.74,1.81,1.81,1.50,1.56,1.84,2.12,1.62,1.42,1.62,1.84,1.52,1.65,1.92,1.71,1.61,
1.59,1.45,1.77,1.64,1.38,1.80,1.66,1.44,1.45,1.55,1.84,1.50,1.40,1.34,1.58,1.62,1.28,1.46,1.63,1.64,
1.36,1.69,1.65,1.32,1.55,1.58,1.25,1.44,1.61,1.27,1.46,1.65,1.55,1.51,1.28,1.36,1.69,1.40,1.36,1.41,
1.41,1.27,1.59,1.54,1.25,1.64,1.64,1.31,1.36,1.44,1.52,1.68,1.29,1.35,1.72,1.60,1.44,1.20,1.54,1.50,
1.37,1.45,1.53,1.36,1.57,1.71,1.19,1.48,1.48,1.23,1.33,1.58,1.71,1.28,1.40,1.67,1.60,1.52,1.28,1.32,
1.63,1.25,1.48,1.49,1.28,1.57,1.58,1.40,1.42,1.61,1.61,1.21,1.21,1.54,1.53,1.30,1.33,1.37,1.68,1.66,
1.47,1.70,1.32,1.33,1.73,1.51,1.37,1.26,1.62,1.60,1.27,1.55,1.49,1.18,1.39,1.47,1.66,1.65,1.34,1.35,
1.43,1.40,1.35,1.50,1.63,1.29,1.55,1.72,1.24,1.34,1.50,1.39,1.31,1.68,1.67,1.27,1.38,1.43,1.58,1.59,
1.56,1.53,1.20,1.44,1.54,1.67,1.43,1.33,1.65,1.37,1.24,1.64,1.59,1.42,1.35,1.54,1.52,1.58,1.31,1.22,
1.39,1.38,1.47,1.58,1.30,1.22,1.74,1.65,1.34,1.50,1.65,1.32,1.42,1.40,1.51,1.69,1.25,1.29,1.62,1.55,
1.34,1.48,1.70,1.19,1.41,1.61,1.60,1.53,1.17,1.28,1.57,1.36,1.37,1.72,1.66,1.43,1.29,1.57,1.49,1.26,
1.51,1.33,1.38,1.52,1.77,1.37,1.31,1.66,1.56,1.17,1.45,1.47,1.64,1.59,1.26,1.24,1.55,1.41,1.40,1.62,
1.68,1.37,1.33,1.63,1.53,1.23,1.21,1.52,1.61,1.60,1.42,1.42,1.58,1.27,1.28,1.70,1.48,1.34,1.63,1.54,
1.28,1.66,1.60,1.35,1.40,1.49,1.71,1.20,1.33,1.56,1.48,1.64,1.19,1.39,1.57,1.31,1.53,1.73,1.37,1.44,
1.34,1.30,1.66,1.51,1.39,1.68,1.49,1.33,1.27,1.45,1.62,1.75,1.37,1.26,1.73,1.55,1.32,1.40,1.47,1.59,
1.49,1.53,1.29,1.22,1.66,1.58,1.37,1.43,1.57,1.29,1.17,1.67,1.60,1.50,1.41,1.36,1.70,1.62,1.34,1.25,
1.58,1.42,1.38,1.72,1.67,1.32,1.31,1.57,1.50,1.24,1.24,1.48,1.55,1.61,1.63,1.28,1.35,1.38,1.43,1.65,
1.54,1.60,1.44,1.40,1.72,1.25,1.29,1.64,1.52,1.34,1.36,1.69,1.64,1.44,1.25,1.21,1.59,1.56,1.41,1.47,
1.36,1.26,1.69,1.55,1.27,1.62,1.54,1.38,1.44,1.71,1.59,1.31,1.22,1.52,1.52,1.35,1.61,1.43,1.32,1.67,
1.31,1.57,1.00,1.50,1.35,1.45,1.59,1.74,1.24,1.37,1.65,1.32,1.43,1.66,1.54,1.41,1.20,1.59,1.56,1.22,
1.62,1.33,1.25,1.49,1.51,1.65,1.42,1.24,1.65,1.53,1.34,1.58,1.74,1.20,1.30,1.63,1.47,1.42,1.39,1.52,
1.40,1.70,1.55,1.34,1.26,1.38,1.64,1.50,1.45,1.28,1.56,1.55,1.31,1.59,1.77,1.25,1.38,1.48,1.51,1.39,
1.58,1.44,1.33];

const traceRed = [
0.63,0.32,0.43,0.59,0.72,0.69,0.36,0.36,0.55,0.49,0.29,0.73,0.60,0.40,0.68,0.65,0.40,0.25,0.48,0.55,
0.33,0.50,0.65,0.41,0.45,0.76,0.76,0.53,0.38,0.28,0.53,0.63,0.24,0.33,0.62,0.72,0.58,0.57,0.42,0.37,
0.67,0.30,0.30,0.54,0.56,0.62,0.47,0.45,0.70,0.66,0.39,0.26,0.79,0.59,0.35,0.35,0.52,0.42,0.44,0.71,
0.41,0.75,0.74,0.38,0.32,0.56,0.59,0.31,0.49,0.65,0.64,0.60,0.27,0.23,0.57,0.52,0.66,0.70,0.37,0.40,
0.54,0.45,0.34,0.55,0.71,0.34,0.42,0.77,0.62,0.39,0.22,0.44,0.65,0.73,0.46,0.32,0.75,0.48,0.39,0.64,
0.45,0.58,0.60,0.49,0.31,0.72,0.69,0.38,0.50,0.42,0.61,0.69,0.36,0.47,0.82,0.59,0.43,0.63,0.56,0.27,
0.73,0.43,0.38,0.63,0.58,0.27,0.26,0.70,0.66,0.55,0.47,0.37,0.63,0.45,0.33,0.74,0.53,0.34,0.68,0.60,
0.36,0.53,0.57,0.24,0.40,0.66,0.64,0.58,0.29,0.33,0.70,0.41,0.48,0.77,0.59,0.48,0.25,0.62,0.61,0.31,
0.59,0.38,0.49,0.57,0.77,0.42,0.34,0.71,0.57,0.22,0.41,0.52,0.69,0.64,0.30,0.29,0.64,0.46,0.46,0.67,
0.39,0.71,0.71,0.34,0.44,0.60,0.54,0.46,0.32,0.29,0.67,0.67,0.42,0.53,0.78,0.38,0.37,0.74,0.52,0.43,
0.36,0.44,0.56,0.74,0.27,0.34,0.63,0.59,0.44,0.26,0.70,0.50,0.39,0.63,0.31,0.30,0.59,0.40,0.51,0.67,
0.66,0.62,0.34,0.42,0.54,0.27,0.23,0.66,0.61,0.36,0.46,0.71,0.75,0.46,0.37,0.23,0.41,0.58,0.57,0.49,
0.32,0.28,0.69,0.57,0.43,0.64,0.52,0.40,0.29,0.73,0.60,0.33,0.20,0.54,0.64,0.37,0.47,0.45,0.55,0.69,
0.58,0.59,0.25,0.29,0.67,0.47,0.40,0.76,0.50,0.39,0.35,0.34,0.86,0.40,0.42,0.43,0.33,0.61,0.62,0.24,
0.45,0.35,0.65,0.51,0.28,0.67,0.57,0.26,0.37,0.55,0.77,0.60,0.34,0.22,0.53,0.65,0.24,0.44,0.60,0.54,
0.54,0.72,0.39,0.36,0.68,0.40,0.30,0.52,0.49,0.30,0.38,0.57,0.63,0.61,0.17,0.55,0.56,0.50,0.43,0.41,
0.26,0.39,0.61,0.65,0.41,0.25,0.73,0.54,0.33,0.62,0.52,0.44,0.36,0.29,0.66,0.72,0.46,0.36,0.31,0.56,
0.63,0.68,0.42,0.37,0.59,0.51,0.35,0.22,0.70,0.58,0.29,0.66,0.51,0.41,0.40,0.33,0.74,0.75,0.38,0.46,
0.40,0.32,0.50,0.53,0.22,0.70,0.65,0.35,0.42,0.47,0.58,0.77,0.30,0.28,0.69,0.57,0.35,0.42,0.53,0.61,
0.60,0.55,0.28,0.24,0.55,0.60,0.45,0.45,0.67,0.31,0.32,0.69,0.57,0.52,0.21,0.38,0.62,0.64,0.47,0.27,
0.45,0.66,0.37,0.39,0.65,0.29,0.57,0.62,0.26,0.49,0.52,0.25,0.33,0.58,0.69,0.33,0.40,0.73,0.60,0.43,
0.36,0.46,0.52,0.55,0.56,0.20,0.18,0.43,0.47,0.68,0.32,0.33,0.70,0.63,0.39,0.24,0.59,0.39,0.27,0.59,
0.38,0.66,0.46,0.42,0.29,0.34,0.73,0.51,0.33,0.30,0.64,0.70,0.41,0.37,0.50,0.61,0.24,0.54,0.61,0.25,
0.31,0.22,0.60,0.59,0.52,0.41,0.22,0.66,0.60,0.33,0.45,0.38,0.55,0.75,0.29,0.46,0.71,0.28,0.38,0.59,
0.37,0.56,0.74,0.46,0.45,0.68,0.65,0.25,0.22,0.64,0.63,0.59,0.43,0.31,0.73,0.72,0.36,0.57,0.57,0.42,
0.60,0.49,0.48,0.59,0.88,0.37,0.43,0.72,0.69,0.69,0.59,0.43,0.79,0.66,0.42,0.55,0.72,0.52,0.59,0.91,
0.86,0.79,0.75,0.64,0.60,1.04,0.95,0.66,0.83,0.84,1.05,0.78,0.67,0.99,1.01,0.72,0.82,0.80,1.18,0.87,
1.06,0.94,0.70,1.22,1.03,0.79,0.91,0.86,1.12,0.80,0.69,1.00,1.02,0.62,0.76,0.89,0.91,0.73,0.67,1.01,
0.75,0.62,0.90,0.69,0.53,0.81,0.89,0.49,0.57,0.94,0.69,0.61,0.43,0.46,0.84,0.79,0.54,0.60,0.63,0.38,
0.55,0.31,0.39,0.68,0.80,0.42,0.43,0.56,0.68,0.73,0.32,0.35,0.54,0.49,0.43,0.64,0.70,0.28,0.38,0.57,
0.52,0.53,0.60,0.23,0.32,0.63,0.40,0.38,0.71,0.71,0.45,0.47,0.64,0.34,0.28,0.67,0.57,0.57,0.37,0.30,
0.58,0.35,0.42,0.55,0.38,0.70,0.76,0.31,0.47,0.61,0.62,0.26,0.24,0.51,0.55,0.74,0.35,0.39,0.67,0.48,
0.56,0.69,0.48,0.40,0.65,0.33,0.21,0.57,0.61,0.24,0.30,0.64,0.53,0.43,0.44,0.60,0.70,0.52,0.33,0.28,
0.63,0.38,0.34,0.68,0.43,0.50,0.73,0.21,0.36,0.58,0.51,0.63,0.41,0.29,0.68,0.54,0.26,0.36,0.59,0.73,
0.61,0.62,0.25,0.46,0.54,0.30,0.35,0.71,0.78,0.42,0.38,0.37,0.58,0.75,0.29,0.32,0.66,0.53,0.46,0.43,
0.44,0.25,0.57,0.61,0.18,0.57,0.64,0.45,0.39,0.67,0.50,0.40,0.31,0.36,0.69,0.42,0.40,0.47,0.55,0.56,
0.33,0.59,0.48,0.33,0.68,0.36,0.38,0.44,0.54,0.36,0.35,0.54,0.75,0.40,0.43,0.26,0.63,0.62,0.28,0.42,
0.40,0.30,0.76,0.61,0.42,0.47,0.53,0.76,0.31,0.40,0.72,0.32,0.37,0.57,0.61,0.65,0.44,0.23,0.65,0.52,
0.55,0.66,0.37,0.45,0.71,0.28,0.32,0.63,0.60,0.51,0.44,0.21,0.67,0.38,0.24,0.41,0.52,0.56,0.42,0.37,
0.49,0.43,0.64,0.74,0.23,0.38,0.59,0.53,0.34,0.67,0.69,0.29,0.47,0.46,0.57,0.60,0.30,0.34,0.62,0.71,
0.44,0.49,0.59,0.40,0.30,0.75,0.68,0.52,0.49,0.27,0.60,0.62,0.35,0.32,0.81,0.38,0.42,0.56,0.55,0.36,
0.58,0.29,0.48,0.53,0.76,0.61,0.33,0.44,0.56,0.65,0.40,0.25,0.68,0.58,0.29,0.34,0.63,0.41,0.45,0.70,
0.66,0.36,0.29,0.37,0.55,0.55,0.46,0.30,0.69,0.64,0.38,0.59,0.78,0.22,0.34,0.51,0.51,0.69,0.43,0.39,
0.35,0.44,0.56,0.54,0.39,0.33,0.63,0.76,0.28,0.38,0.69,0.43,0.47,0.72,0.58,0.31,0.24,0.47,0.60,0.63,
0.52,0.56,0.32,0.38,0.69,0.70,0.40,0.36,0.60,0.40,0.20,0.67,0.63,0.45,0.44,0.57,0.73,0.61,0.37,0.25,
0.31,0.41,0.63,0.61,0.43,0.25,0.74,0.68,0.36,0.53,0.51,0.35,0.22,0.43,0.60,0.72,0.56,0.32,0.40,0.58,
0.37,0.51,0.69,0.22,0.42,0.64,0.52,0.56,0.30,0.31,0.65,0.39,0.40,0.36,0.76,0.46,0.35,0.60,0.50,0.29,
0.71,0.36,0.36,0.55,0.56,0.40,0.24,0.69,0.64,0.20,0.45,0.50,0.61,0.62,0.31,0.27,0.51,0.44,0.66,0.65,
0.39,0.70,0.72,0.33,0.30,0.59,0.57,0.45,0.47,0.28,0.62,0.66,0.25,0.52,0.55,0.37,0.64,0.73,0.35,0.42,
0.61,0.30,0.41,0.57,0.70,0.67,0.34,0.34,0.53,0.47,0.27,0.71,0.58,0.38,0.66,0.63,0.38,0.23,0.46,0.53,
0.55,0.42,0.36];

const traceValues = [traceMagenta, traceNavy, traceTeal, traceGreen, traceOlive, traceRed];
const traceSteps = [ppmStepCoarse, ppmStepFine, ppmStepFine, ppmStepFine, ppmStepFine, ppmStepFine];
const traceColors = ['#990099', '#000080', '#008080', '#008000', '#808000', '#990000'];

function toPairs(vals, step) {
  return vals.map((v, i) => [+(ppmStart - i * step).toFixed(2), v]);
}

const font = 'Liberation Sans';
const textColor = '#222';
const chart = echarts.init(document.getElementById('c'), null, { renderer: 'canvas' });
chart.setOption({
  animation: false,
  backgroundColor: '#ffffff',
  grid: [
    { left: 11, right: 23, top: 13, bottom: 42, containLabel: false, outerBoundsMode: 'none' },
    { left: 11, right: 23, top: 13, bottom: 86, containLabel: false, outerBoundsMode: 'none' }
  ],
  xAxis: [
    {
      gridIndex: 0, type: 'value', inverse: true, min: -317.8, max: 284.6, position: 'bottom',
      axisLine: { show: true, onZero: false, lineStyle: { color: '#000', width: 1 } },
      axisTick: { show: true, length: 5, customValues: xTickLabels, lineStyle: { color: '#000', width: 1 } },
      axisLabel: { show: true, customValues: xTickLabels, margin: 15, color: textColor, fontSize: 13, fontFamily: font },
      splitLine: { show: false },
      name: axisName, nameLocation: 'middle', nameGap: 26, nameMoveOverlap: false,
      nameTextStyle: { color: textColor, fontSize: 13, fontFamily: font }
    },
    {
      gridIndex: 0, type: 'value', inverse: true, min: -317.8, max: 284.6, position: 'bottom',
      axisLine: { show: false, onZero: false },
      axisTick: { show: true, length: 3, customValues: xMinorTicks, lineStyle: { color: '#000', width: 1 } },
      axisLabel: { show: false },
      splitLine: { show: false }
    },
    { gridIndex: 1, type: 'value', inverse: true, min: -317.8, max: 284.6, show: false }
  ],
  yAxis: [
    { gridIndex: 0, type: 'value', min: 0.117, max: 6.494, show: false },
    {
      gridIndex: 1, type: 'value', min: 0.497, max: 6.494, position: 'right', offset: 5,
      axisLine: { show: true, onZero: false, lineStyle: { color: '#000', width: 1 } },
      axisTick: { show: true, length: 4, customValues: yTickLabels, lineStyle: { color: '#000', width: 1 } },
      axisLabel: { show: true, customValues: yTickLabels, margin: 9, color: textColor, fontSize: 13, fontFamily: font },
      splitLine: { show: false }
    }
  ],
  series: traceValues.map((vals, k) => ({
    type: 'line',
    xAxisIndex: 0, yAxisIndex: 0,
    data: toPairs(vals, traceSteps[k]),
    showSymbol: false,
    symbol: 'none',
    silent: true,
    sampling: false,
    lineStyle: { color: traceColors[k], width: 1.5 },
    itemStyle: { color: traceColors[k] }
  }))
});
</script>
</body></html>
